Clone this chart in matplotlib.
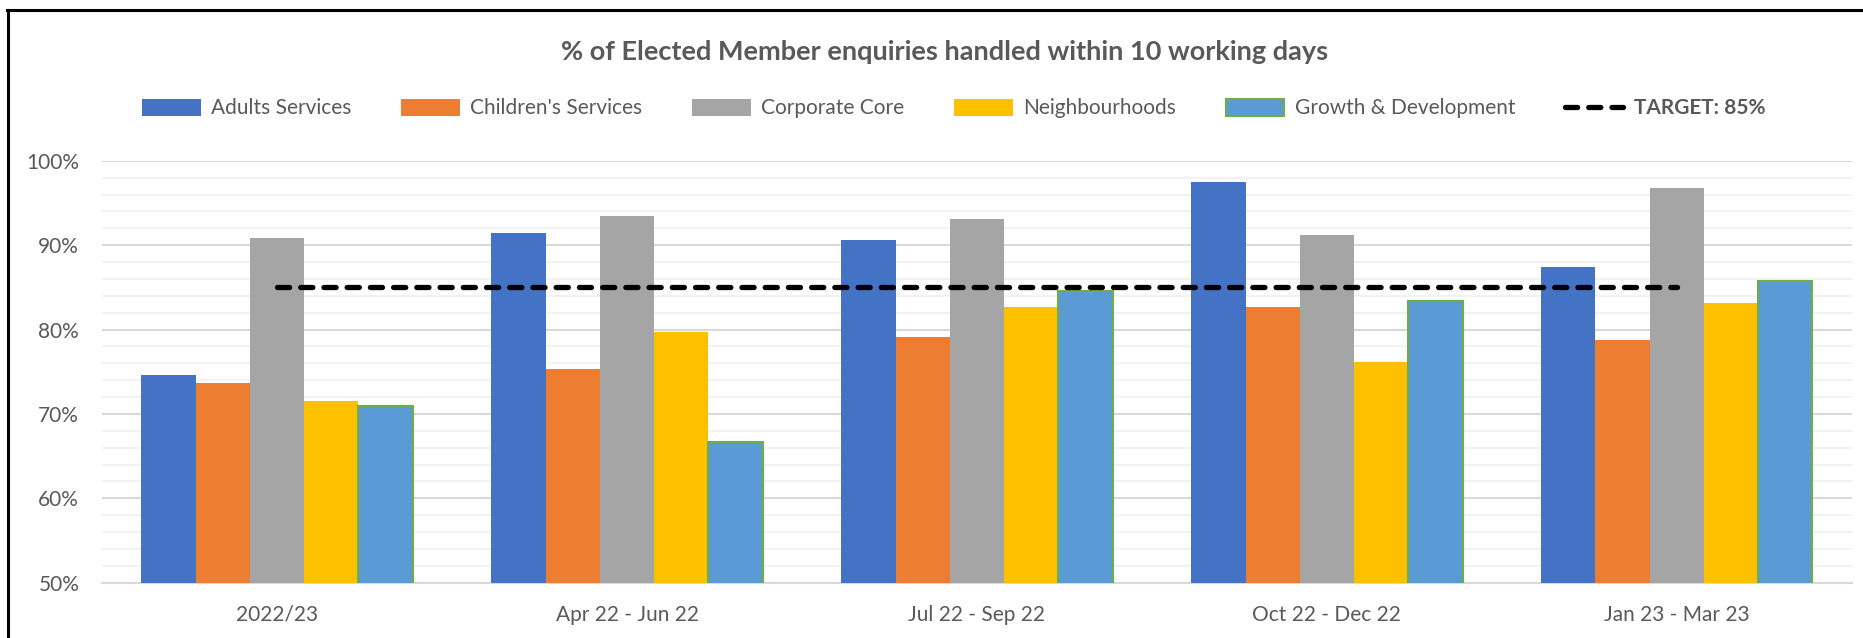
import numpy as np
import matplotlib.pyplot as plt
from matplotlib.lines import Line2D
from matplotlib.ticker import MultipleLocator, PercentFormatter

plt.rcParams['font.family'] = ['Lato', 'DejaVu Sans']

# Dados
periodos = ['2022/23', 'Apr 22 - Jun 22', 'Jul 22 - Sep 22', 'Oct 22 - Dec 22', 'Jan 23 - Mar 23']
adults = [74.6, 91.5, 90.6, 97.5, 87.4]
children = [73.7, 75.3, 79.1, 82.7, 78.8]
corporate = [90.9, 93.4, 93.1, 91.2, 96.8]
neighbourhoods = [71.5, 79.7, 82.7, 76.1, 83.2]
growth = [70.9, 66.7, 84.6, 83.4, 85.8]
target = [85, 85, 85, 85, 85]

series = [
    ('Adults Services', adults, '#4472C4', '#4472C4'),
    ("Children's Services", children, '#ED7D31', '#ED7D31'),
    ('Corporate Core', corporate, '#A5A5A5', '#A5A5A5'),
    ('Neighbourhoods', neighbourhoods, '#FFC000', '#FFC000'),
    ('Growth & Development', growth, '#5B9BD5', '#70AD47'),
]

cor_texto = '#595959'
fig = plt.figure(figsize=(18.63, 6.38), dpi=100)
ax = fig.add_axes([0.0548, 0.0867, 0.9392, 0.6613])

x = np.arange(len(periodos))
largura = 0.155
handles = []
for i, (nome, valores, cor, borda) in enumerate(series):
    b = ax.bar(x + (i - 2) * largura, valores, largura, color=cor, edgecolor=borda,
               linewidth=1.5 if borda != cor else 0, label=nome, zorder=3)
    handles.append(b)

linha, = ax.plot(x, target, color='black', linewidth=3.8, linestyle=(0, (2.3, 2.1)),
                 dash_capstyle='round', label='TARGET: 85%', zorder=4)
handles.append(linha)

ax.set_xlim(-0.5, len(periodos) - 0.5)
ax.set_ylim(50, 100)
ax.yaxis.set_major_locator(MultipleLocator(10))
ax.yaxis.set_minor_locator(MultipleLocator(2))
ax.yaxis.set_major_formatter(PercentFormatter(decimals=0))
ax.grid(axis='y', which='major', color='#D9D9D9', linewidth=1.5, zorder=0)
ax.grid(axis='y', which='minor', color='#F2F2F2', linewidth=1.5, zorder=0)
ax.set_xticks(x)
ax.set_xticklabels(periodos)
ax.tick_params(axis='both', which='both', length=0, labelsize=15, labelcolor=cor_texto)
ax.tick_params(axis='x', pad=16)
ax.tick_params(axis='y', pad=16.5, labelsize=15)
for s in ['top', 'right', 'left']:
    ax.spines[s].set_visible(False)
ax.spines['bottom'].set_color('#D9D9D9')
ax.spines['bottom'].set_linewidth(1.5)

fig.text(0.507, 0.918, '% of Elected Member enquiries handled within 10 working days',
         ha='center', va='center', fontsize=19.5, fontweight='bold', color=cor_texto)

leg = fig.legend(handles, [h.get_label() for h in handles], loc='center',
                 bbox_to_anchor=(0.512, 0.83), ncol=6, frameon=False, fontsize=15,
                 handlelength=2.8, handleheight=0.9, columnspacing=2.4, handletextpad=0.5)
for t in leg.get_texts():
    t.set_color(cor_texto)
leg.get_texts()[-1].set_fontweight('bold')

# borda da figura
fig.add_artist(Line2D([0.004, 1.0], [0.984, 0.984], color='black', linewidth=2.2))
fig.add_artist(Line2D([0.0045, 0.0045], [0.0, 0.984], color='black', linewidth=2.2))

plt.savefig('out.png', dpi=100)
